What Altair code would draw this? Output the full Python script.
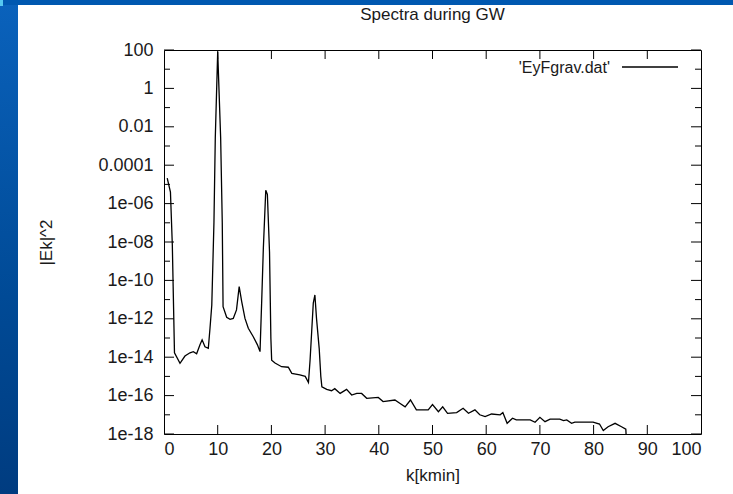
import altair as alt
import pandas as pd

# ---------------- data ----------------
k_values = [0.6, 1.2, 1.55, 1.95, 2.98, 3.9, 4.84, 5.46, 6.08, 6.7, 7.1, 7.63, 8.25, 8.57, 8.9,
            9.3, 9.55, 10.0, 10.55, 10.85, 11.0, 11.67, 12.3, 12.9, 13.5, 14.0, 14.47, 15.08, 15.7,
            16.6, 17.4, 17.88, 18.2, 18.5, 18.95, 19.25, 19.65, 19.9, 20.05, 20.67, 21.9, 23.15,
            23.8, 25.3, 26.3, 26.9, 27.2, 27.5, 27.8, 28.1, 28.4, 28.9, 29.2, 29.4, 30.3, 31.2,
            31.8, 32.8, 34.0, 34.95, 35.9, 36.8, 37.75, 39.9, 40.8, 43.0, 43.9, 44.9, 45.9, 47.0,
            49.2, 50.0, 51.1, 51.9, 52.8, 54.5, 55.7, 56.7, 57.9, 58.8, 59.8, 61.0, 62.6, 63.1,
            63.9, 64.9, 65.6, 68.2, 69.1, 70.0, 70.95, 71.9, 73.7, 74.4, 75.0, 75.9, 76.5, 79.9,
            81.1, 81.8, 82.7, 84.0, 85.2, 86.0, 86.1]
ek2_values = [2.1e-05, 4e-06, 7e-09, 1.7e-14, 4.8e-15, 1.15e-14, 1.7e-14, 1.95e-14, 1.5e-14,
              4.4e-14, 8e-14, 3.5e-14, 2.9e-14, 3.3e-13, 5.2e-12,
              1e-07, 2.6e-03, 80.0, 2.6e-03, 1e-07, 4.3e-12, 1.2e-12, 9.3e-13, 1.05e-12, 2.9e-12,
              4.7e-11, 7.9e-12, 1.05e-12, 3.2e-13,
              1.2e-13, 4.4e-14, 1.95e-14, 9.5e-12, 4.7e-09, 5e-06, 3e-06, 3e-09, 1e-13, 7e-15,
              5e-15, 3.2e-15, 3e-15,
              1.45e-15, 1.2e-15, 1e-15, 4.8e-16, 7e-15, 2.1e-13, 6.5e-12, 1.75e-11, 1.05e-12,
              2.9e-14, 1e-15, 2.9e-16, 2.1e-16, 1.8e-16,
              2.3e-16, 1.3e-16, 2.1e-16, 1.07e-16, 1.3e-16, 1.3e-16, 7.2e-17, 8e-17, 4.9e-17,
              5.9e-17, 4e-17, 2.6e-17, 5.9e-17, 1.8e-17,
              1.8e-17, 3.4e-17, 1.45e-17, 2.6e-17, 1.2e-17, 1.3e-17, 2.2e-17, 1.2e-17, 1.8e-17,
              1e-17, 8e-18, 1.1e-17, 1e-17, 1.3e-17,
              3.6e-18, 6.6e-18, 5.4e-18, 5.4e-18, 4.1e-18, 7.4e-18, 4.4e-18, 5.9e-18, 5.9e-18,
              5e-18, 5.4e-18, 3.6e-18, 4.2e-18, 4.2e-18,
              3.3e-18, 1.5e-18, 2.4e-18, 3.6e-18, 2.4e-18, 1.8e-18, 5e-19]

x_ticks = [0, 10, 20, 30, 40, 50, 60, 70, 80, 90, 100]
x_inner_ticks = [10, 20, 30, 40, 50, 60, 70, 80, 90]
y_ticks = [100, 1, 0.01, 0.0001, 1e-06, 1e-08, 1e-10, 1e-12, 1e-14, 1e-16, 1e-18]
y_tick_labels = ["100", "1", "0.01", "0.0001", "1e-06", "1e-08", "1e-10", "1e-12",
                 "1e-14", "1e-16", "1e-18"]
y_minor_ticks = [10, 0.1, 0.001, 1e-05, 1e-07, 1e-09, 1e-11, 1e-13, 1e-15, 1e-17]

title_text = "Spectra during GW"
x_title = "k[kmin]"
y_title = "|Ek|^2"
legend_label = "'EyFgrav.dat'"

# ---------------- layout ----------------
W, H = 537, 384
FONT = "Liberation Sans"
FS = 17
LFS = 18
TXT = "#1a1a1a"

df = pd.DataFrame({"k": k_values, "ek2": ek2_values})

xscale = alt.Scale(domain=[0, 100], nice=False, zero=False)
yscale = alt.Scale(type="log", domain=[1e-18, 100], nice=False)

label_array = "[" + ",".join("'" + s + "'" for s in y_tick_labels) + "]"
label_expr = label_array + "[round((2 - log(datum.value)/LN10)/2)]"

line = alt.Chart(df).mark_line(color="black", strokeWidth=1.3, clip=True).encode(
    x=alt.X("k:Q", scale=xscale,
            axis=alt.Axis(values=x_ticks, grid=False, domain=False, ticks=False,
                          labelFontSize=LFS, labelFont=FONT, labelColor=TXT, labelPadding=6,
                          title=x_title, titleFont=FONT, titleFontSize=FS,
                          titleFontWeight="normal", titleColor=TXT,
                          titleX=W / 2, titleY=41, titleBaseline="middle", titleAlign="center")),
    y=alt.Y("ek2:Q", scale=yscale,
            axis=alt.Axis(values=y_ticks, grid=False, domain=False, ticks=False,
                          labelExpr=label_expr, labelFontSize=LFS, labelFont=FONT,
                          labelColor=TXT, labelPadding=11,
                          title=y_title, titleFont=FONT, titleFontSize=FS,
                          titleFontWeight="normal", titleColor=TXT, titleAngle=270,
                          titleX=-118, titleY=H / 2, titleBaseline="middle", titleAlign="center")),
)

one = alt.Data(values=[{}])

# blue slide frame
left_band = alt.Chart(one).mark_rect(
    color=alt.Gradient(gradient="linear", x1=0, x2=0, y1=0, y2=1,
                       stops=[alt.GradientStop(color="#0a62bc", offset=0),
                              alt.GradientStop(color="#004a96", offset=0.6),
                              alt.GradientStop(color="#003c80", offset=1)])
).encode(x=alt.value(-164), x2=alt.value(-146), y=alt.value(-50), y2=alt.value(H + 60))
top_band = alt.Chart(one).mark_rect(color="#0058b0").encode(
    x=alt.value(-164), x2=alt.value(W + 32), y=alt.value(-50), y2=alt.value(-45))
corner = alt.Chart(one).mark_rect(color="#55c8f0").encode(
    x=alt.value(-164), x2=alt.value(-161), y=alt.value(-50), y2=alt.value(-44))

# gnuplot-style inward ticks
ymaj = pd.DataFrame({"v": y_ticks})
ymin = pd.DataFrame({"v": y_minor_ticks})
xin = pd.DataFrame({"x": x_inner_ticks})

def yrule(d, x1, x2):
    return alt.Chart(d).mark_rule(color="black", strokeWidth=1).encode(
        y=alt.Y("v:Q", scale=yscale), x=alt.value(x1), x2=alt.value(x2))

def xrule(y1, y2):
    return alt.Chart(xin).mark_rule(color="black", strokeWidth=1).encode(
        x=alt.X("x:Q", scale=xscale), y=alt.value(y1), y2=alt.value(y2))

ticks = [yrule(ymaj, 0, 10), yrule(ymaj, W, W - 10), yrule(ymin, 0, 6), yrule(ymin, W, W - 6),
         xrule(H, H - 9), xrule(0, 9)]

title = alt.Chart(one).mark_text(font=FONT, fontSize=FS, color=TXT, align="center",
                                 baseline="middle").encode(
    x=alt.value(W / 2), y=alt.value(-35), text=alt.value(title_text))

legend_text = alt.Chart(one).mark_text(font=FONT, fontSize=16, color=TXT, align="right",
                                       baseline="middle").encode(
    x=alt.value(446), y=alt.value(18), text=alt.value(legend_label))
legend_line = alt.Chart(one).mark_rule(color="black", strokeWidth=1.3).encode(
    x=alt.value(458), x2=alt.value(514), y=alt.value(17))

chart = alt.layer(left_band, top_band, corner, line, *ticks, title, legend_text, legend_line
).properties(
    width=W, height=H,
    padding={"left": 164, "top": 50, "right": 32, "bottom": 60},
    autosize=alt.AutoSizeParams(type="none"),
    background="white",
).configure_view(stroke="black", strokeWidth=1)

chart.save("out.html", embed_options={"renderer": "svg", "actions": False})
